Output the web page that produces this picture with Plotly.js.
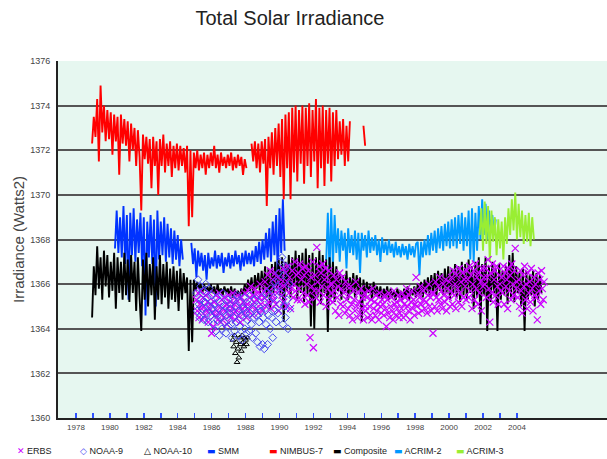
<!DOCTYPE html>
<html>
<head>
<meta charset="utf-8">
<script src="https://cdn.plot.ly/plotly-3.0.1.min.js"></script>
<style>html,body{margin:0;padding:0;background:#fff;}#chart{width:607px;height:459px;}</style>
</head>
<body>
<div id="chart"></div>
<script>
// ---------- Data ----------
// Line series are sampled every 0.1 year (dense daily records drawn as spiky bands)
const lineStep = 0.1;

const nimbusStart = 1978.95;
const nimbus7 = [
 1372.3,1373.5,1372.6,1374.3,1371.5,1374.9,1372.8,1374.0,1372.4,1373.8,
 1372.5,1373.7,1371.8,1373.6,1372.4,1373.5,1370.9,1373.6,1372.3,1373.4,
 1372.2,1373.3,1371.5,1373.2,1372.0,1373.0,1371.3,1372.9,1371.7,1369.3,
 1372.7,1371.6,1372.6,1371.4,1372.5,1370.3,1372.6,1371.3,1372.4,1370.0,
 1372.5,1371.3,1372.7,1371.0,1372.3,1371.3,1372.4,1370.8,1372.2,1371.2,
 1372.3,1371.1,1372.2,1371.3,1372.1,1371.0,1372.2,1368.6,1372.0,1369.0,
 1371.9,1371.2,1372.0,1371.1,1371.8,1371.2,1371.9,1370.9,1371.8,1371.2,
 1371.9,1371.3,1372.2,1371.2,1371.8,1371.0,1371.9,1371.3,1371.7,1371.2,
 1371.8,1371.3,1371.9,1371.1,1371.7,1371.2,1371.8,1371.3,1371.7,1370.9,
 1371.6,1371.2,null,null,1372.3,1371.5,1372.4,1371.2,1372.3,1371.0,
 1372.4,1371.4,1372.5,1369.5,1372.6,1371.2,1372.8,1370.9,1373.0,1371.3,
 1373.2,1370.8,1373.4,1369.8,1373.6,1371.2,1373.7,1369.8,1373.9,1371.0,
 1374.0,1370.6,1373.8,1371.4,1374.0,1370.5,1373.9,1371.3,1374.1,1370.8,
 1373.8,1371.5,1374.3,1370.3,1373.9,1371.2,1374.0,1370.4,1373.8,1371.4,
 1373.9,1370.6,1373.7,1371.3,1373.8,1371.6,1373.3,1371.8,1373.4,1371.3,
 1373.1,1371.5,1373.3,null,null,null,null,null,null,null,1373.1,1372.2
];

const smmStart = 1980.3;
const smm = [
 1367.6,1369.3,1367.4,1369.0,1367.2,1369.5,1366.9,1369.1,1365.3,1369.2,
 1367.3,1369.4,1367.0,1368.9,1367.4,1369.2,1366.8,1369.0,1364.6,1368.8,
 1367.2,1369.1,1366.9,1368.9,1365.0,1369.3,1367.1,1368.8,1367.3,1369.0,
 1367.0,1368.7,1367.2,1368.5,1366.9,1368.4,1367.1,1368.2,1366.8,1368.0,
 1367.1,null,null,null,null,1367.85,1366.9,1367.6,1366.3,1367.5,
 1366.8,1367.4,1366.6,1367.3,1366.2,1367.4,1366.7,1367.2,1366.8,1367.5,
 1366.7,1367.3,1366.8,1367.4,1366.5,1367.2,1366.8,1367.4,1366.7,1367.3,
 1366.8,1367.5,1366.9,1367.3,1366.6,1367.4,1366.8,1367.5,1366.9,1367.4,
 1366.9,1367.5,1366.8,1367.7,1367.0,1367.9,1366.9,1368.0,1367.1,1368.3,
 1367.2,1368.5,1367.0,1368.8,1367.3,1369.1,1366.4,1369.4,1367.4,1369.8,1367.5
];

const acrim2Start = 1992.75;
const acrim2 = [
 1367.0,1369.2,1366.5,1369.4,1366.8,1369.1,1367.4,1368.5,1367.0,1368.4,
 1367.5,1368.3,1366.7,1368.5,1367.4,1368.2,1367.3,1368.4,1367.1,1368.3,
 1366.5,1368.3,1367.5,1368.2,1367.2,1368.4,1367.4,1368.1,1367.5,1368.2,
 1367.3,1368.0,1367.0,1368.1,1367.4,1367.9,1367.3,1368.0,1367.4,1367.8,
 1367.2,1367.9,1367.3,1367.7,1367.2,1367.8,1367.3,1367.7,1367.1,1367.8,
 1367.3,1367.7,1367.2,1367.8,1367.9,1366.4,1367.9,1367.2,1368.0,1367.3,
 1368.2,1367.3,1368.3,1367.5,1368.4,1367.4,1368.5,1367.6,1368.6,1367.5,
 1368.7,1367.7,1368.8,1367.6,1368.9,1367.7,1369.0,1367.6,1369.1,1367.8,
 1369.2,1367.5,1369.0,1367.7,1369.3,1367.1,1369.4,1367.0,1369.2,1367.5,
 1369.5,1368.0,1369.8,1368.2,1369.6,1368.0,1369.3,1368.4,1369.1,1368.2,1368.9
];

const acrim3Start = 2001.8;
const acrim3 = [
 1368.2,1369.4,1367.5,1369.7,1367.8,1369.5,1367.0,1369.3,1367.9,1369.0,
 1367.3,1368.9,1367.6,1368.8,1367.1,1369.0,1367.8,1369.4,1368.2,1369.8,
 1368.4,1370.1,1368.0,1369.6,1368.1,1369.3,1367.8,1369.1,1367.9,1369.2,
 1367.7,1369.0,1368.0
];

const compositeStart = 1978.95;
const composite = [
 1364.5,1366.8,1365.5,1367.7,1365.8,1367.2,1365.3,1367.5,1365.9,1367.3,
 1365.4,1367.0,1365.7,1367.4,1364.9,1367.2,1365.6,1367.0,1365.3,1367.4,
 1365.5,1367.1,1365.2,1367.3,1365.6,1367.0,1364.8,1367.2,1365.4,1363.9,
 1367.1,1365.3,1367.4,1365.0,1366.9,1365.5,1367.2,1364.4,1366.8,1365.3,
 1367.3,1365.1,1366.9,1365.4,1367.0,1364.9,1366.7,1365.3,1366.8,1365.2,
 1366.6,1364.8,1366.7,1365.3,1366.5,1365.6,1366.3,1363.0,1366.2,1363.4,
 1366.2,1365.7,1366.1,1365.8,1366.0,1365.6,1366.0,1365.7,1365.9,1365.6,
 1366.0,1365.6,1365.9,1365.5,1366.0,1365.6,1365.8,1365.5,1365.9,1365.6,
 1365.8,1365.5,1365.9,1365.4,1365.8,1365.5,1365.7,1365.4,1365.8,1365.5,
 1366.0,1365.6,1366.2,1365.7,1366.3,1365.5,1366.4,1365.8,1366.5,1365.6,
 1366.6,1365.7,1366.8,1365.4,1366.7,1364.9,1366.9,1365.6,1367.0,1365.8,
 1367.1,1365.5,1367.2,1364.3,1367.0,1365.7,1367.3,1365.4,1367.2,1365.9,
 1367.5,1365.3,1367.3,1365.6,1367.4,1365.2,1367.6,1365.5,1367.3,1364.1,
 1367.4,1364.0,1367.2,1365.4,1367.5,1365.1,1367.3,1365.6,1367.1,1363.85,
 1367.2,1365.4,1367.0,1365.2,1366.8,1365.7,1366.5,1365.3,1366.4,1365.6,
 1366.6,1365.3,1366.3,1365.6,1366.5,1365.4,1366.4,1365.7,1366.3,1364.3,
 1366.2,1365.4,1366.1,1365.6,1366.0,1365.3,1366.1,1365.5,1365.9,1365.4,
 1365.9,1365.3,1365.8,1365.4,1365.9,1365.3,1365.8,1365.4,1365.7,1365.3,
 1365.8,1365.4,1365.7,1365.3,1365.8,1365.4,1365.9,1365.3,1365.8,1365.5,
 1365.9,1365.4,1366.0,1365.5,1366.1,1365.4,1366.2,1365.6,1366.3,1365.5,
 1366.4,1365.6,1366.5,1365.4,1366.6,1365.7,1366.5,1365.5,1366.7,1365.6,
 1366.8,1365.3,1366.7,1365.6,1366.9,1365.4,1366.8,1365.2,1367.0,1365.5,
 1366.9,1365.3,1367.1,1365.6,1366.8,1364.9,1367.0,1365.4,1367.2,1364.2,
 1366.9,1365.5,1367.2,1363.9,1366.8,1365.2,1367.0,1365.6,1366.7,1363.9,
 1366.9,1365.3,1366.6,1365.5,1366.8,1365.1,1367.3,1365.4,1367.4,1365.2,
 1366.8,1365.6,1366.5,1365.0,1366.7,1363.9,1366.6,1365.3,1366.4,1365.5,
 1366.6,1365.0,1366.5,1365.3,1366.4,1365.6
];

// Scatter series are sampled every 0.05 year
const pointStep = 0.05;

const erbsStart = 1985.1;
const erbs = [
 1365.3,1364.8,1365.6,1364.5,1365.1,1365.7,1364.9,1364.4,1365.4,1365.0,1364.6,1365.5,1364.8,1365.2,1364.3,1365.6,1364.9,1365.1,1363.8,1364.7,
 1364.1,1365.2,1364.6,1365.5,1364.8,1364.4,1365.0,1365.6,1364.7,1364.3,1365.3,1364.9,1364.5,1365.4,1364.8,1365.1,1364.2,1364.9,1365.5,1364.6,
 1365.2,1364.5,1364.9,1365.6,1364.7,1365.1,1364.4,1365.3,1364.8,1365.5,1364.6,1365.0,1364.3,1365.4,1364.9,1365.2,1364.7,1365.6,1365.0,1364.5,
 1365.1,1365.7,1364.8,1365.4,1365.9,1365.0,1364.6,1365.5,1365.2,1365.8,1364.9,1365.3,1365.6,1364.7,1365.4,1366.0,1365.1,1365.5,1364.8,1365.7,
 1365.4,1366.1,1365.0,1365.8,1366.4,1365.2,1365.7,1366.6,1364.9,1365.5,1366.2,1365.3,1365.9,1366.5,1365.1,1365.6,1366.3,1364.8,1365.8,1366.0,
 1366.2,1365.5,1366.7,1365.2,1365.9,1366.5,1365.0,1366.1,1366.8,1365.6,1366.3,1364.9,1365.8,1366.6,1365.4,1366.0,1367.0,1365.7,1366.4,1365.3,
 1366.5,1365.8,1366.9,1365.3,1366.2,1366.7,1365.6,1366.4,1365.1,1366.8,1366.0,1365.5,1366.6,1365.2,1363.6,1366.3,1365.9,1367.0,1363.15,1365.7,
 1366.4,1365.4,1367.65,1366.1,1365.7,1366.8,1365.2,1366.5,1365.9,1366.9,1365.5,1366.2,1366.7,1365.0,1366.3,1365.8,1366.6,1365.3,1366.0,1365.6,
 1366.0,1365.2,1366.4,1365.7,1364.8,1366.2,1365.4,1365.9,1364.6,1366.5,1365.1,1365.8,1366.3,1365.0,1365.6,1364.7,1366.1,1365.3,1365.9,1364.9,
 1365.5,1364.6,1365.9,1365.1,1364.4,1365.7,1365.3,1364.8,1366.1,1365.0,1364.5,1365.6,1365.2,1364.7,1365.8,1364.9,1365.4,1364.4,1365.6,1365.0,
 1364.8,1365.4,1364.5,1365.7,1365.0,1364.6,1365.3,1364.4,1365.8,1364.9,1365.2,1364.6,1365.5,1364.8,1365.1,1364.4,1365.6,1365.0,1364.7,1365.3,
 1365.1,1364.6,1365.5,1364.9,1364.1,1365.3,1364.7,1365.6,1364.5,1365.0,1365.4,1364.8,1364.4,1365.7,1365.1,1364.6,1365.2,1364.9,1365.5,1364.5,
 1364.7,1365.3,1364.9,1365.6,1364.5,1365.1,1365.4,1364.6,1365.8,1365.0,1364.8,1365.5,1364.4,1365.2,1365.7,1364.9,1365.3,1364.6,1365.1,1366.3,
 1365.0,1365.6,1364.7,1365.4,1365.9,1365.1,1364.8,1365.7,1365.3,1364.9,1365.8,1365.2,1364.7,1365.5,1366.0,1365.0,1365.4,1364.8,1365.6,1363.8,
 1365.6,1365.0,1366.1,1365.4,1364.8,1365.9,1365.3,1366.3,1365.1,1365.7,1364.9,1366.0,1365.5,1365.2,1366.2,1364.8,1365.8,1365.4,1366.1,1365.0,
 1365.7,1366.3,1365.1,1366.6,1365.5,1366.0,1364.9,1366.4,1365.8,1365.2,1366.7,1365.6,1366.1,1365.0,1366.5,1365.4,1366.2,1365.9,1365.3,1366.6,
 1366.2,1365.4,1366.8,1365.7,1366.4,1364.9,1366.0,1366.6,1365.3,1366.9,1365.8,1366.3,1365.1,1366.5,1365.6,1366.1,1364.8,1366.7,1365.9,1366.3,
 1366.0,1366.7,1365.4,1366.3,1367.1,1365.8,1364.3,1366.5,1365.6,1366.9,1365.2,1366.2,1366.6,1365.5,1366.8,1365.9,1365.1,1366.4,1366.0,1365.7,
 1366.3,1365.6,1366.8,1365.1,1366.5,1365.9,1366.2,1364.9,1366.7,1365.7,1366.4,1365.3,1366.9,1366.0,1365.5,1366.6,1367.6,1365.8,1366.1,1365.4,
 1366.2,1365.0,1366.6,1365.7,1364.7,1366.4,1365.9,1366.8,1365.3,1366.0,1364.9,1366.5,1365.6,1366.1,1365.2,1366.7,1365.8,1364.8,1366.3,1365.5,
 1366.0,1365.4,1364.4,1366.5,1365.7,1366.2,1365.1,1366.6,1365.8,1365.3,1366.1
];

const noaa9Start = 1985.1;
const noaa9 = [
 1365.6,1364.8,1366.2,1365.1,1364.5,1365.9,1365.3,1364.9,1365.7,1364.4,1365.2,1366.0,1364.7,1365.4,1364.3,1365.8,1365.0,1364.6,1365.5,1364.9,
 1364.2,1365.1,1364.7,1363.9,1365.4,1364.4,1364.9,1363.7,1365.2,1364.5,1364.0,1365.6,1364.8,1364.3,1365.0,1363.8,1364.6,1365.3,1364.1,1364.7,
 1364.9,1364.2,1363.6,1365.3,1364.5,1363.9,1365.0,1364.3,1365.5,1363.7,1364.8,1364.1,1365.2,1364.6,1363.5,1364.9,1365.4,1364.0,1364.7,1363.8,
 1364.4,1365.1,1363.9,1364.7,1365.5,1364.2,1363.6,1364.9,1364.5,1365.3,1363.8,1364.6,1363.4,1365.0,1364.3,1363.2,1364.8,1365.4,1363.3,1364.5,
 1363.1,1364.9,1364.2,1365.6,1363.3,1364.6,1365.2,1364.0,1365.8,1364.5,1363.6,1365.4,1364.8,1366.1,1364.3,1365.9,1364.7,1366.5,1365.1,1367.0,
 1365.6,1367.2,1364.2,1366.4,1365.0,1364.5,1366.8,1365.3,1364.0,1366.0,1364.9
];

const noaa10Start = 1987.25;
const noaa10 = [
 1363.5,1363.2,1363.7,1362.9,1363.4,1362.5,1363.1,1362.7,1363.6,
 1363.3,1363.0,1363.7,1363.4,1363.2,1363.6,1363.5,1363.3,1363.6
];

const xTickVals = [1978,1979,1980,1981,1982,1983,1984,1985,1986,1987,1988,1989,1990,1991,
                   1992,1993,1994,1995,1996,1997,1998,1999,2000,2001,2002,2003,2004];
const xTickText = ['1978','','1980','','1982','','1984','','1986','','1988','','1990','',
                   '1992','','1994','','1996','','1998','','2000','','2002','','2004'];
const yTickVals = [1360,1362,1364,1366,1368,1370,1372,1374,1376];

const legendNames = ['ERBS','NOAA-9','NOAA-10','SMM','NIMBUS-7','Composite','ACRIM-2','ACRIM-3'];

// ---------- Build ----------
function times(start, step, n){
  const t = [];
  for (let i = 0; i < n; i++) t.push(+(start + i*step).toFixed(3));
  return t;
}
function lineTrace(name, start, vals, color){
  return {type:'scatter', mode:'lines', name:name, x:times(start, lineStep, vals.length), y:vals,
          line:{color:color, width:1.9}, connectgaps:false, showlegend:false, hoverinfo:'skip'};
}
function pointTrace(name, start, vals, symbol, color, size, lw){
  return {type:'scatter', mode:'markers', name:name, x:times(start, pointStep, vals.length), y:vals,
          marker:{symbol:symbol, size:size, color:color, line:{color:color, width:lw}},
          showlegend:false, hoverinfo:'skip'};
}

const C = {erbs:'#cc00ff', noaa9:'#4646f0', noaa10:'#000000', smm:'#0033ff',
           nimbus:'#ff0000', comp:'#000000', a2:'#0099ff', a3:'#99ee33'};

const traces = [
  lineTrace('SMM', smmStart, smm, C.smm),
  lineTrace('NIMBUS-7', nimbusStart, nimbus7, C.nimbus),
  lineTrace('ACRIM-2', acrim2Start, acrim2, C.a2),
  lineTrace('ACRIM-3', acrim3Start, acrim3, C.a3),
  lineTrace('Composite', compositeStart, composite, C.comp),
  pointTrace('NOAA-10', noaa10Start, noaa10, 'triangle-up-open', C.noaa10, 5, 1),
  pointTrace('ERBS', erbsStart, erbs, 'x-thin-open', C.erbs, 7, 1.2),
  pointTrace('NOAA-9', noaa9Start, noaa9, 'diamond-open', C.noaa9, 6, 1)
];

// Legend drawn as text (symbols are glyphs) to match the compact original layout
const plotL = 58, plotW = 549, plotB = 418, plotH = 357;
const legendSyms = [
  ['✕', C.erbs], ['◇', C.noaa9], ['△', C.noaa10], ['▬', C.smm],
  ['▬', C.nimbus], ['▬', C.comp], ['▬', C.a2], ['▬', C.a3]
];
const legendLeft = [15, 78, 142, 205, 267, 331, 392, 454];
const annotations = legendNames.map((n, i) => ({
  xref:'paper', yref:'paper', x:(legendLeft[i]-plotL)/plotW, y:-(451-plotB)/plotH,
  xanchor:'left', yanchor:'middle', showarrow:false,
  text:'<span style="color:' + legendSyms[i][1] + ';font-family:DejaVu Sans">' + legendSyms[i][0] + '</span> ' + n,
  font:{family:'Liberation Sans, Arial, sans-serif', size:9, color:'#222'}
}));

const layout = {
  width:607, height:459,
  margin:{l:58, r:0, t:61, b:41},
  paper_bgcolor:'#ffffff',
  plot_bgcolor:'#e6f7f0',
  font:{family:'Liberation Sans, Arial, sans-serif', color:'#333'},
  title:{text:'Total Solar Irradiance', x:290/607, xanchor:'center', y:1-18/459, yanchor:'middle',
         font:{size:20, color:'#222', family:'Liberation Sans, Arial, sans-serif'}},
  xaxis:{range:[1976.94, 2009.31], tickvals:xTickVals, ticktext:xTickText,
         ticks:'inside', ticklen:5, tickwidth:1.5, tickcolor:'#2f52ff',
         showgrid:false, zeroline:false, showline:true, linecolor:'#222', linewidth:2,
         tickfont:{size:8, color:'#444'}, fixedrange:true},
  yaxis:{range:[1360, 1376], tickvals:yTickVals, ticks:'', showgrid:true,
         gridcolor:'#555555', gridwidth:2, zeroline:false, showline:true,
         linecolor:'#222', linewidth:2, ticklabelstandoff:4,
         tickfont:{size:9, color:'#444'},
         title:{text:'Irradiance (Watts2)', standoff:2, font:{size:15, color:'#444'}}},
  annotations:annotations,
  showlegend:false
};

Plotly.newPlot('chart', traces, layout, {displayModeBar:false, staticPlot:true});
</script>
</body>
</html>
